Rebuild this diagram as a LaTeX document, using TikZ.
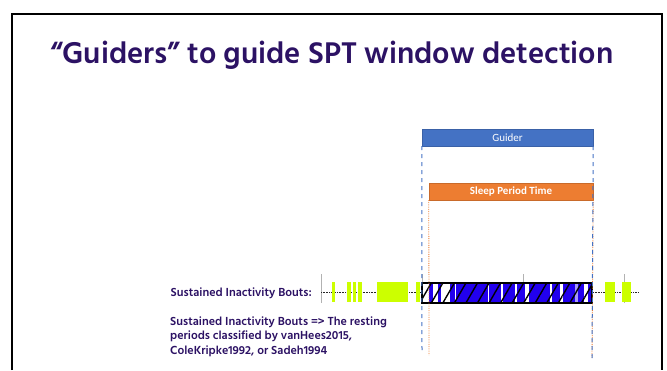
\documentclass[tikz,border=0pt]{standalone}
\usepackage{fontspec}
\usepackage{xcolor}
\usepackage{tikz}
\usetikzlibrary{positioning}
\usetikzlibrary{patterns.meta}
\newfontfamily\hindfont{Hind Siliguri}
\newfontfamily\calfont{Carlito}
\definecolor{titlepurple}{HTML}{2C1264}
\definecolor{guiderblue}{HTML}{4472C4}
\definecolor{sptorange}{HTML}{ED7D31}
\definecolor{boutgreen}{HTML}{CCFF00}
\definecolor{sleepblue}{RGB}{34,0,238}
\tikzset{
    guiderbox/.style = {rectangle, draw=guiderblue!85!black, fill=guiderblue, text=white, inner sep=0pt, font=\calfont\fontsize{11}{11}\selectfont},
    sptbox/.style = {rectangle, draw=sptorange!85!black, fill=sptorange, text=white, inner sep=0pt, font=\calfont\bfseries\fontsize{11}{11}\selectfont},
    purpletext/.style = {text=titlepurple, inner sep=0pt, font=\hindfont\bfseries\fontsize{12}{14.5}\selectfont},
    guideline/.style = {guiderblue, dashed, line width=1pt, dash pattern=on 4pt off 4pt},
    sptline/.style = {sptorange, densely dotted, line width=0.8pt},
    tickline/.style = {gray!60, line width=0.6pt},
    axisline/.style = {gray!30!black, densely dotted, line width=0.6pt},
    bout/.style = {fill=boutgreen, draw=none}
}
\begin{document}
\begin{tikzpicture}[x=1pt, y=-1pt]
\useasboundingbox (0,0) rectangle (667,370);
% slide frame
\draw[line width=2pt] (12,370) -- (12,14) -- (662,14) -- (662,370);
% title
\node[anchor=base west, inner sep=0pt, text=titlepurple, font=\hindfont\bfseries\fontsize{30.7}{30.7}\selectfont] (title) at (50,63) {“Guiders” to guide SPT window detection};
% guider and SPT boxes
\node[guiderbox, minimum width=171pt, minimum height=17pt] (guider) at (507.5,137.5) {Guider};
\node[sptbox, minimum width=164pt, minimum height=17pt] (spt) at (511,191.5) {Sleep Period Time};
\coordinate (gl) at (422,352);
\coordinate (gr) at (592,360);
\coordinate (sl) at (429,355);
\coordinate (sr) at (592,358);
%
% time axis
\coordinate (axl) at (321,292);
\coordinate (axr) at (639,292);
\foreach \x in {321,422,523,624}
    \draw[tickline] (\x,274) -- (\x,303);
\draw[axisline] (axl) -- (axr);
%
% sustained inactivity bouts
\foreach \a/\b in {332/335,347/351,352.5/356,358/361.5,377/407.5,416/420,605/615,622/631}
    \fill[bout] (\a,282) rectangle (\b,302);
\fill[sleepblue] (422,283) rectangle (592,303);
\foreach \a/\b in {422/428.5,433.3/437.7,441/450,454.5/456,487.5/489,501/502.5,514.5/517,524.5/528.5,549.5/551.7,560/563,584/587.5}
    \fill[white] (\a,283) rectangle (\b,303);
\fill[sleepblue!40!white] (575,283) rectangle (578,303);
\fill[pattern={Lines[angle=60,distance=10pt,line width=1.4pt]}, pattern color=black] (422,283) rectangle (592,303);
\draw[line width=2pt] (422,283) rectangle (592,303);
%
\draw[sptline] (spt.south west) -- (sl);
\draw[sptline] (spt.south east) -- (sr);
\draw[guideline] (guider.south west) -- (gl);
\draw[guideline] (guider.south east) -- (gr);
%
\node[purpletext, anchor=base east] (silabel) at (312,296) {Sustained Inactivity Bouts:};
\node[purpletext, anchor=base west, align=left] (sinote) at (170,354) {Sustained Inactivity Bouts => The resting\\periods classified by vanHees2015,\\ColeKripke1992, or Sadeh1994};
\end{tikzpicture}
\end{document}
